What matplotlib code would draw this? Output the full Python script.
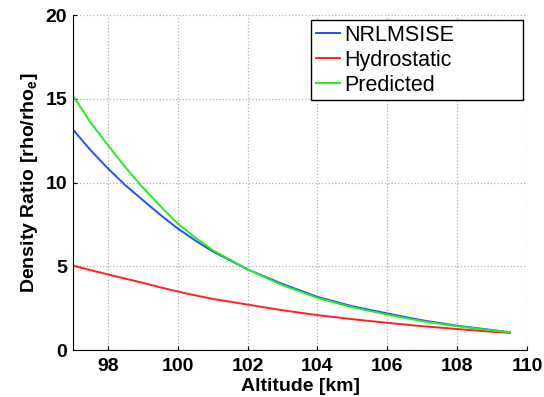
import matplotlib
matplotlib.use('Agg')
import matplotlib.pyplot as plt

plt.rcParams['font.family'] = ['Liberation Sans', 'DejaVu Sans']

altitude = [97, 97.5, 98, 98.5, 99, 99.5, 100, 100.5, 101, 102, 103, 104, 105, 106, 107, 108, 109, 109.5]
nrlmsise = [13.17, 11.95, 10.85, 9.85, 8.96, 8.08, 7.26, 6.55, 5.9, 4.82, 3.95, 3.18, 2.62, 2.19, 1.78, 1.46, 1.2, 1.07]
hydrostatic = [5.05, 4.78, 4.52, 4.27, 4.02, 3.75, 3.5, 3.27, 3.06, 2.72, 2.38, 2.09, 1.85, 1.63, 1.43, 1.26, 1.1, 1.03]
predicted = [15.2, 13.6, 12.24, 10.92, 9.71, 8.6, 7.56, 6.72, 5.97, 4.82, 3.88, 3.12, 2.56, 2.12, 1.73, 1.43, 1.18, 1.07]

fig = plt.figure(figsize=(5.44, 3.97), dpi=100)
ax = fig.add_axes([0.134, 0.118, 0.835, 0.844])

ax.plot(altitude, nrlmsise, color='#2050ff', lw=1.4, label='NRLMSISE')
ax.plot(altitude, hydrostatic, color='#ff2020', lw=1.4, label='Hydrostatic')
ax.plot(altitude, predicted, color='#20ee20', lw=1.4, label='Predicted')

ax.set_xlim(97, 110)
ax.set_ylim(0, 20)
ax.set_xticks([98, 100, 102, 104, 106, 108, 110])
ax.set_yticks([0, 5, 10, 15, 20])
ax.grid(True, linestyle=':', color='#b0b0b0', lw=0.9)
ax.spines['top'].set_visible(False)
ax.spines['right'].set_visible(False)
ax.tick_params(labelsize=14, direction='in', length=3)
ax.tick_params(axis='x', pad=6)
ax.tick_params(axis='y', pad=4)
for lbl in ax.get_xticklabels() + ax.get_yticklabels():
    lbl.set_fontweight('bold')
ax.set_xlabel('Altitude [km]', fontsize=14, fontweight='bold', labelpad=2)
ax.set_ylabel('Density Ratio [rho/rho$_{\\mathregular{e}}$]', fontsize=14, fontweight='bold', labelpad=4)

# MATLAB-style legend box: wider than its text
leg = ax.legend(loc='upper left', mode='expand', bbox_to_anchor=(0.524, 0.755, 0.467, 0.23),
                fontsize=15.5, fancybox=False, framealpha=1, edgecolor='black', borderaxespad=0,
                handlelength=1.15, handletextpad=0.2, labelspacing=0.18, borderpad=0.22)
leg.get_frame().set_linewidth(1.0)

fig.savefig('out.png', dpi=100)
